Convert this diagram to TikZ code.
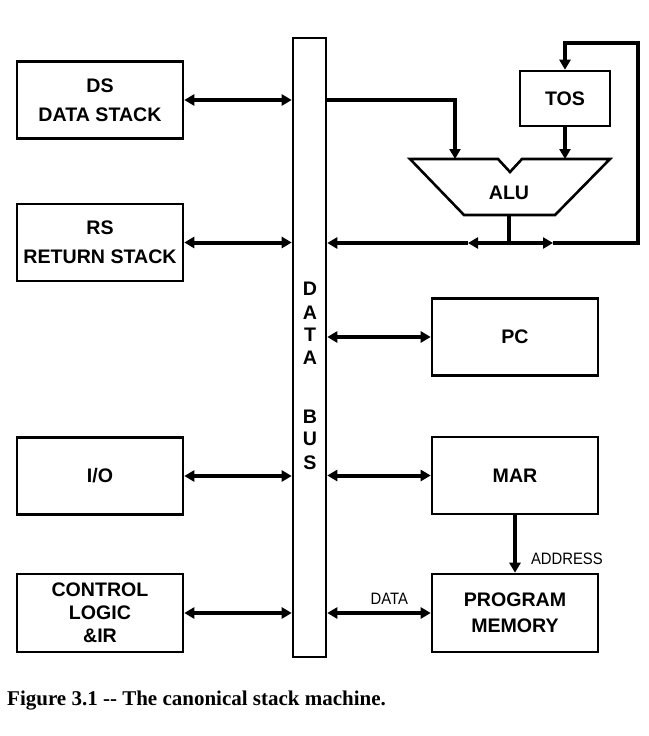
\documentclass[tikz,border=0pt]{standalone}
\usepackage{fontspec}
\setmainfont{Liberation Serif}
\setsansfont[FakeStretch=0.9]{Liberation Sans}
\newfontfamily\boxfont{Liberation Sans}
\usepackage{tikz}
\usetikzlibrary{
  positioning, calc, arrows.meta
}
\definecolor{ink}{RGB}{0,0,0}
\tikzset{
  box/.style={draw=ink,line width=2.6pt,minimum width=166pt,minimum height=77pt,
    inner sep=0pt,font=\boxfont\bfseries\fontsize{19.6}{24}\selectfont,align=center},
  busbox/.style={draw=ink,line width=2.6pt,minimum width=33pt,minimum height=619pt,
    inner sep=0pt},
  busl/.style={font=\boxfont\bfseries\fontsize{19.6}{24}\selectfont,inner sep=0pt},
  arr/.style={{Triangle[length=10pt,width=11pt]}-{Triangle[length=10pt,width=11pt]},
    line width=4pt,draw=ink},
  tip/.style={-{Triangle[length=10pt,width=11pt]},line width=4pt,draw=ink},
  wire/.style={line width=4pt,draw=ink},
  lbl/.style={font=\sffamily\fontsize{16.5}{18}\selectfont,text=ink,inner sep=2pt},
}

\begin{document}
\begin{tikzpicture}[x=1pt,y=-1pt]
  \useasboundingbox[fill=white] (0,0) rectangle (648,736);
  % data bus
  \node[busbox] (bus) at (309.5,347.5) {};
  \foreach \c/\y [count=\i] in {D/289,A/313,T/335,A/358,B/417,U/439,S/463}
    \node[busl] (bl\i) at (310,\y) {\c};
  % left column
  \node[box] (ds) at (100,100) {DS\\[5pt]DATA STACK};
  \node[box] (rs) at (100,242.5) {RS\\[5pt]RETURN STACK};
  \node[box] (io) at (100,476) {I/O};
  \node[box,minimum height=78pt] (ctl) at (100,613) {CONTROL\\[-1pt]LOGIC\\[-1pt]\&IR};
  % right column
  \node[box] (pc) at (515,337) {PC};
  \node[box] (mar) at (515,475.5) {MAR};
  \node[box,minimum height=78pt] (pm) at (515,613) {PROGRAM\\[2pt]MEMORY};
  \node[box,minimum width=90pt,minimum height=55pt] (tos) at (565,98.5) {TOS};
  % alu
  \draw[ink,line width=2.6pt] (410,159) -- (498,159) -- (510,172) -- (522,159)
    -- (610,159) -- (555,215) -- (464,215) -- cycle;
  \node[busl] (alu) at (509,193) {ALU};
  \coordinate (ina) at (455,159);
  \coordinate (aluout) at (509,215);
  \coordinate (J) at (509,243);
  \coordinate (ml) at (468,243);
  \coordinate (mr) at (553,243);
  \coordinate (loop) at (638,43);
  % connections
  \draw[arr] (ds.east) -- (bus.west |- ds.east);
  \draw[arr] (rs.east) -- (bus.west |- rs.east);
  \draw[arr] (io.east) -- (bus.west |- io.east);
  \draw[arr] (ctl.east) -- (bus.west |- ctl.east);
  \draw[arr] (bus.east |- pc.west) -- (pc.west);
  \draw[arr] (bus.east |- mar.west) -- (mar.west);
  \draw[arr] (bus.east |- pm.west) -- node[lbl,above=5pt,pos=0.6]{DATA} (pm.west);
  \draw[tip] (mar.south) -- node[lbl,right=12pt,pos=0.75]{ADDRESS} (pm.north);
  \draw[tip] (bus.east |- ds.east) -| (ina);
  \draw[tip] (tos.south) -- (tos.south |- ina);
  \draw[wire] (aluout) -- (J);
  \draw[tip] (J) -- (ml);
  \draw[tip] (ml) -- (bus.east |- J);
  \draw[tip] (J) -- (mr);
  \draw[tip] (mr) -| (loop) -| (tos.north);
  % caption
  \node[anchor=base west,inner sep=0pt,font=\rmfamily\bfseries\fontsize{21}{24}\selectfont]
    (cap) at (7,705) {Figure 3.1 {-}{-} The canonical stack machine.};
\end{tikzpicture}
\end{document}
